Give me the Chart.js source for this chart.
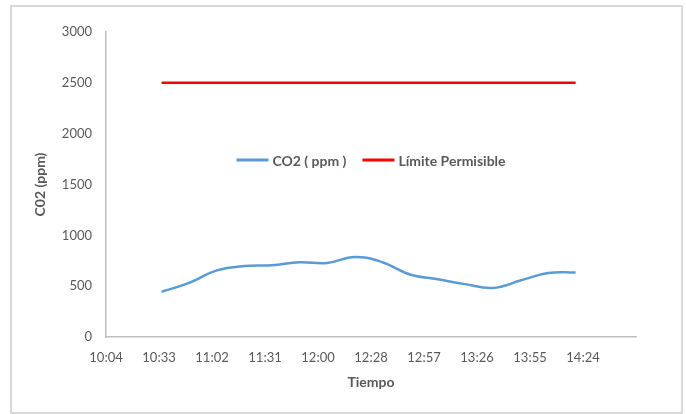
<!DOCTYPE html>
<html>
<head>
<meta charset="utf-8">
<script src="https://cdn.jsdelivr.net/npm/chart.js@4"></script>
<style>
  html, body { margin:0; padding:0; background:#fff; }
  #wrap { position:relative; width:686px; height:414px; }
  #frame { position:absolute; left:10px; top:5px; width:669px; height:405px; border:2px solid #d9d9d9; }
  canvas { position:absolute; left:0; top:0; }
</style>
</head>
<body>
<div id="wrap">
  <div id="frame"></div>
  <canvas id="co2Chart" width="686" height="414"></canvas>
</div>
<script>
// datos
const times = ["10:35","10:50","11:05","11:20","11:35","11:50","12:05","12:20","12:35","12:50","13:05","13:20","13:35","13:50","14:05","14:20"];
const co2Values = [445, 533, 655, 698, 706, 735, 728, 788, 735, 615, 568, 520, 482, 555, 630, 635];
const limitTimes = ["10:35","14:20"];
const limitValues = [2500, 2500];
const xTickValues = [604.8, 633.6, 662.4, 691.2, 720, 748.8, 777.6, 806.4, 835.2, 864, 892.8]; // minutos
const xTickLabels = ["10:04","10:33","11:02","11:31","12:00","12:28","12:57","13:26","13:55","14:24",""];
const yTicks = [0, 500, 1000, 1500, 2000, 2500, 3000];

const toMin = t => { const [h, m] = t.split(":").map(Number); return h * 60 + m; };
const FONT = "Lato, 'Open Sans', sans-serif";
const GREY = "#595959";

// leyenda dentro del área del gráfico
const innerLegend = {
    id: "innerLegend",
    afterDraw(chart) {
        const ctx = chart.ctx, area = chart.chartArea;
        const items = chart.data.datasets;
        ctx.save();
        ctx.font = "bold 14px " + FONT;
        ctx.textBaseline = "middle";
        const lineW = 32, gap = 4, itemGap = 16;
        const widths = items.map(d => lineW + gap + ctx.measureText(d.label).width);
        const total = widths.reduce((a, b) => a + b, 0) + itemGap * (items.length - 1);
        let x = (area.left + area.right) / 2 - total / 2;
        const y = area.top + 128;
        items.forEach((d, i) => {
            ctx.strokeStyle = d.borderColor;
            ctx.lineWidth = 3;
            ctx.beginPath();
            ctx.moveTo(x, y);
            ctx.lineTo(x + lineW, y);
            ctx.stroke();
            ctx.fillStyle = GREY;
            ctx.fillText(d.label, x + lineW + gap, y + 1);
            x += widths[i] + itemGap;
        });
        ctx.restore();
    }
};

new Chart(document.getElementById("co2Chart").getContext("2d"), {
    type: "line",
    data: {
        datasets: [{
            label: "CO2 ( ppm )",
            data: times.map((t, i) => ({x: toMin(t), y: co2Values[i]})),
            borderColor: "#5b9bd5",
            borderWidth: 2.5,
            tension: 0.4,
            pointRadius: 0,
            fill: false
        }, {
            label: "Límite Permisible",
            data: limitTimes.map((t, i) => ({x: toMin(t), y: limitValues[i]})),
            borderColor: "#ff0000",
            borderWidth: 2.5,
            pointRadius: 0,
            fill: false
        }]
    },
    options: {
        responsive: false,
        animation: false,
        layout: { padding: { left: 0, top: 32, right: 50, bottom: 0 } },
        plugins: { legend: { display: false }, tooltip: { enabled: false } },
        scales: {
            x: {
                type: "linear",
                min: 604.8,
                max: 892.8,
                afterBuildTicks: s => { s.ticks = xTickValues.map(v => ({value: v})); },
                afterFit: s => { s.height = 77; },
                grid: { color: "transparent", drawTicks: false },
                border: { display: true, color: "#bfbfbf", width: 1.5 },
                ticks: {
                    padding: 13,
                    color: GREY,
                    font: { family: FONT, size: 13 },
                    maxRotation: 0,
                    autoSkip: false,
                    callback: (v, i) => xTickLabels[i]
                },
                title: {
                    display: true,
                    text: "Tiempo",
                    color: GREY,
                    font: { family: FONT, size: 14, weight: "bold" },
                    padding: { top: 0, bottom: 23 }
                }
            },
            y: {
                min: 0,
                max: 3000,
                afterBuildTicks: s => { s.ticks = yTicks.map(v => ({value: v})); },
                afterFit: s => { s.width = 106; },
                grid: { color: "transparent", drawTicks: false },
                border: { display: true, color: "#bfbfbf", width: 1.5 },
                ticks: {
                    padding: 14,
                    color: GREY,
                    font: { family: FONT, size: 13 },
                    callback: v => String(v)
                },
                title: {
                    display: true,
                    text: "C02 (ppm)",
                    color: GREY,
                    font: { family: FONT, size: 14, weight: "bold" },
                    padding: { top: 32, bottom: 0 }
                }
            }
        }
    },
    plugins: [innerLegend]
});
</script>
</body>
</html>
